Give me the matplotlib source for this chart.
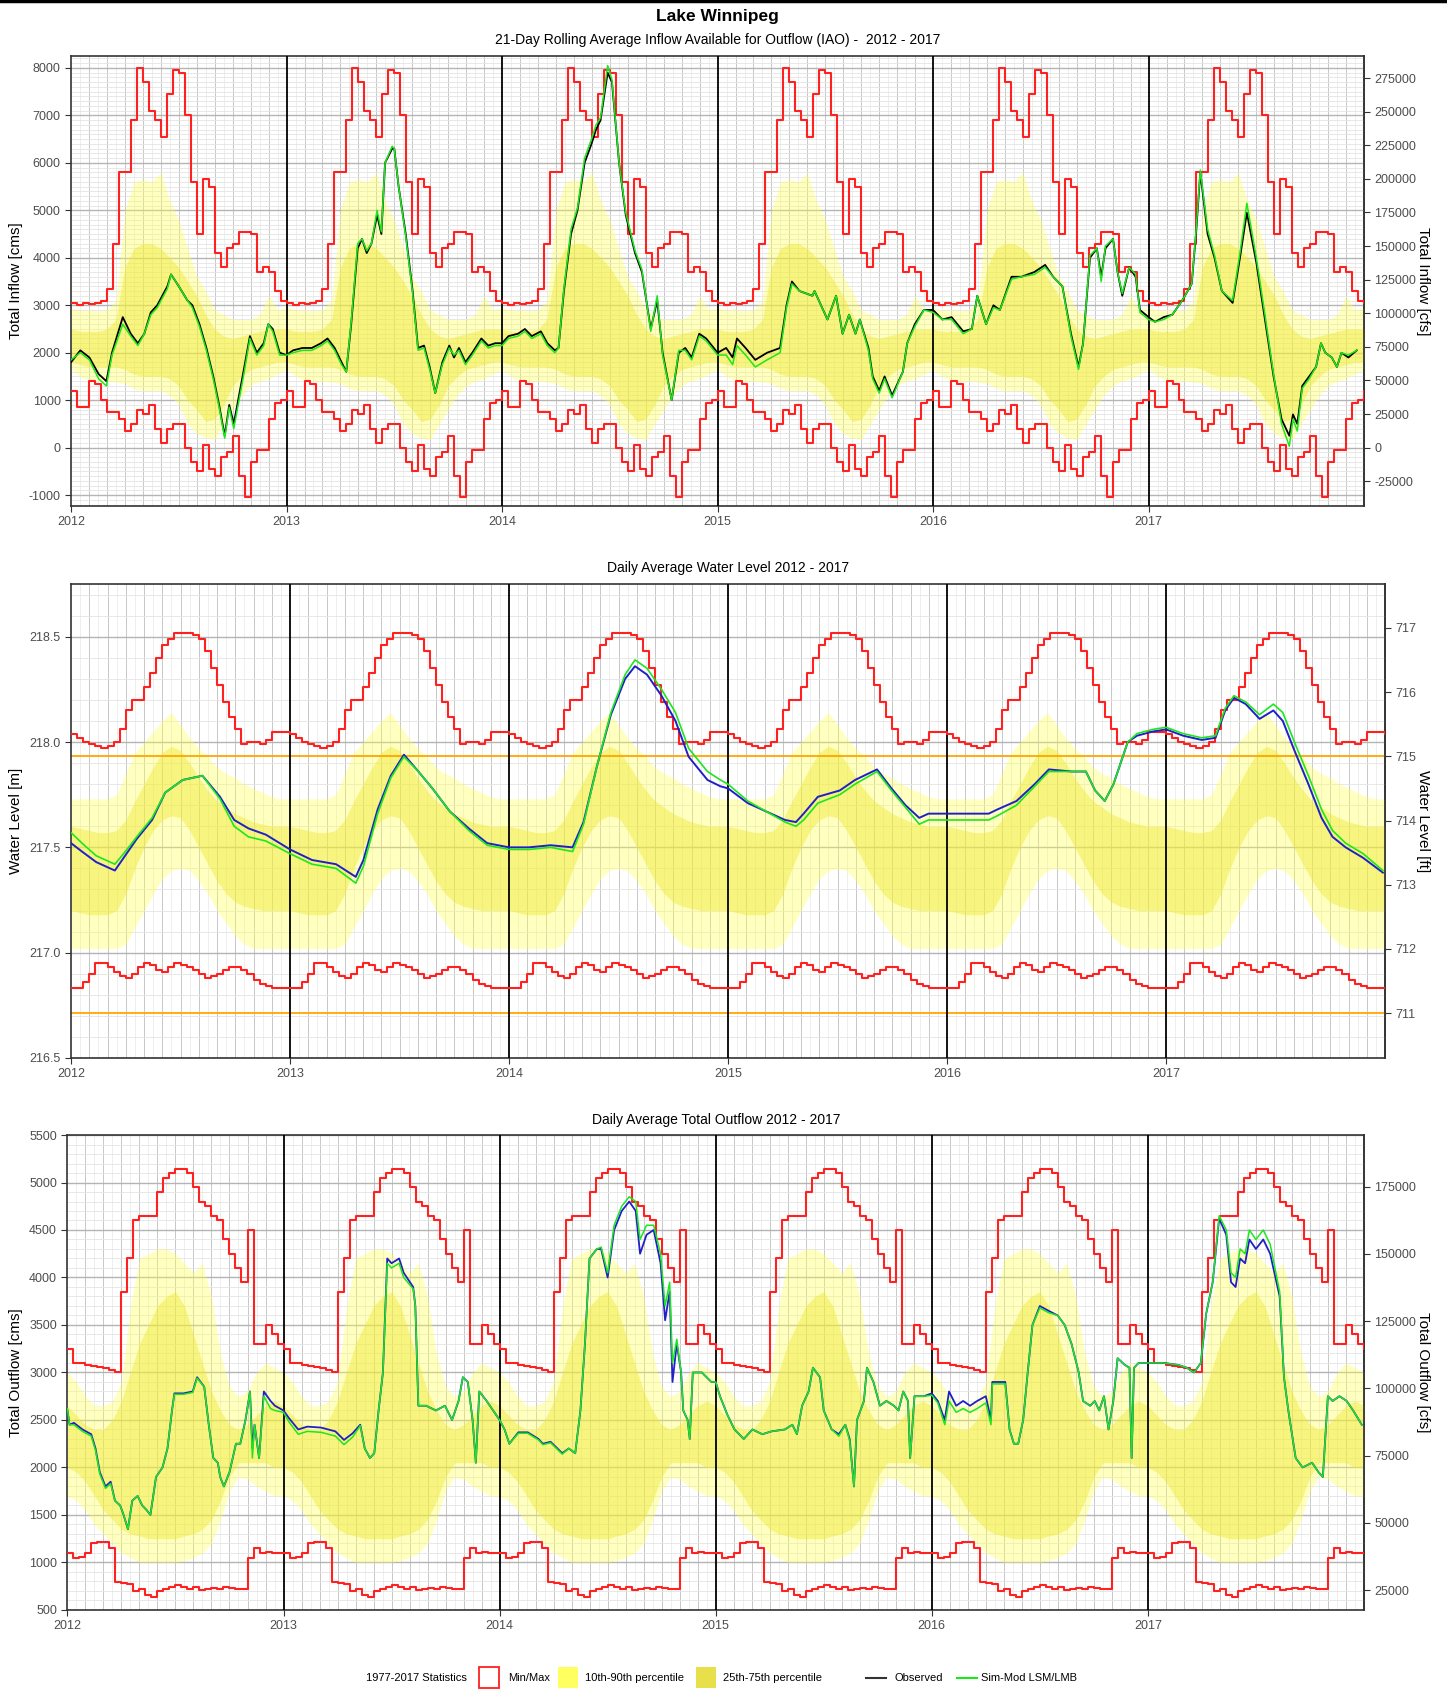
import numpy as np
import matplotlib
matplotlib.use("Agg")
import matplotlib.pyplot as plt
from matplotlib.patches import Rectangle
from matplotlib.lines import Line2D
from matplotlib.ticker import FixedLocator, MultipleLocator, FuncFormatter

plt.rcParams['font.family'] = ['Liberation Sans', 'DejaVu Sans']

years = [2012, 2013, 2014, 2015, 2016, 2017]

#################################################
# 1977-2017 statistics (same every year)
# min/max: 36 ten-day steps, percentiles: 24 half-month values
#################################################
in_max = [3050, 3000, 3050, 3030, 3050, 3100, 3350, 4300, 5800, 5800, 6900, 8000,
          7700, 7100, 6900, 6550, 7450, 7950, 7900, 7000, 5600, 4500, 5650, 5500,
          4100, 3800, 4200, 4300, 4550, 4550, 4500, 3700, 3800, 3700, 3300, 3100]
in_min = [1200, 850, 850, 1400, 1350, 1000, 750, 750, 600, 350, 500, 800,
          700, 900, 400, 100, 400, 500, 500, 0, -300, -500, 50, -450,
          -600, -200, -100, 250, -600, -1050, -300, -50, -50, 600, 950, 1000]
in_p90 = [2950, 2900, 2900, 2880, 2900, 3100, 5000, 5600, 5650, 5600, 5800, 5200,
          4800, 4200, 3600, 3300, 2900, 2800, 2700, 2700, 2700, 2800, 3200, 2900]
in_p75 = [2500, 2450, 2450, 2450, 2500, 2700, 3800, 4200, 4300, 4300, 4200, 4000,
          3800, 3500, 3200, 2800, 2500, 2350, 2300, 2350, 2400, 2450, 2500, 2500]
in_p25 = [1800, 1750, 1700, 1700, 1700, 1700, 1650, 1550, 1500, 1500, 1500, 1450,
          1300, 1000, 800, 550, 600, 900, 1300, 1500, 1650, 1700, 1750, 1800]
in_p10 = [1650, 1500, 1420, 1400, 1400, 1380, 1350, 1250, 1200, 1200, 1200, 1100,
          900, 500, 300, 200, 170, 500, 800, 1100, 1300, 1400, 1450, 1550]

wl_max = [218.04, 218.02, 218.00, 217.99, 217.98, 217.97, 217.98, 218.00, 218.06,
          218.15, 218.20, 218.20, 218.26, 218.33, 218.40, 218.46, 218.49, 218.52,
          218.52, 218.52, 218.51, 218.49, 218.43, 218.35, 218.27, 218.19, 218.12,
          218.06, 217.99, 218.00, 218.00, 217.99, 218.01, 218.05, 218.05, 218.05]
wl_min = [216.83, 216.83, 216.86, 216.90, 216.95, 216.95, 216.93, 216.91, 216.89,
          216.88, 216.90, 216.93, 216.95, 216.94, 216.92, 216.91, 216.93, 216.95,
          216.94, 216.93, 216.92, 216.90, 216.88, 216.89, 216.90, 216.92, 216.93,
          216.93, 216.92, 216.90, 216.87, 216.85, 216.84, 216.83, 216.83, 216.83]
wl_p90 = [217.73, 217.73, 217.73, 217.73, 217.73, 217.75, 217.85, 217.95, 218.00, 218.05, 218.10, 218.14,
          218.08, 218.02, 217.97, 217.93, 217.88, 217.85, 217.83, 217.80, 217.78, 217.76, 217.74, 217.73]
wl_p75 = [217.60, 217.59, 217.58, 217.57, 217.57, 217.58, 217.63, 217.72, 217.80, 217.88, 217.95, 217.98,
          217.96, 217.90, 217.83, 217.77, 217.72, 217.69, 217.66, 217.64, 217.62, 217.61, 217.60, 217.60]
wl_p25 = [217.20, 217.19, 217.18, 217.18, 217.18, 217.20, 217.28, 217.40, 217.50, 217.58, 217.63, 217.65,
          217.64, 217.58, 217.50, 217.42, 217.34, 217.28, 217.24, 217.22, 217.21, 217.20, 217.20, 217.20]
wl_p10 = [217.02, 217.02, 217.02, 217.02, 217.02, 217.02, 217.04, 217.12, 217.20, 217.28, 217.35, 217.39,
          217.40, 217.39, 217.34, 217.28, 217.20, 217.14, 217.08, 217.04, 217.02, 217.02, 217.02, 217.02]
wl_bounds_ft = [711, 715]

out_max = [3250, 3100, 3100, 3080, 3070, 3060, 3050, 3030, 3000, 3850, 4200, 4600,
           4650, 4650, 4650, 4900, 5050, 5100, 5140, 5140, 5100, 4950, 4800, 4750,
           4650, 4600, 4400, 4250, 4100, 3950, 4500, 3300, 3300, 3500, 3400, 3300]
out_min = [1100, 1050, 1060, 1100, 1200, 1220, 1220, 1150, 790, 780, 770, 700,
           720, 660, 640, 700, 720, 740, 760, 740, 720, 740, 710, 720,
           730, 720, 740, 730, 720, 720, 1050, 1150, 1100, 1110, 1100, 1100]
out_p90 = [3000, 2900, 2750, 2650, 2650, 2700, 2900, 3700, 4200, 4250, 4300, 4300,
           4250, 4150, 4050, 4150, 3800, 3200, 2850, 2750, 2800, 3000, 3100, 3050]
out_p75 = [2650, 2550, 2450, 2400, 2400, 2500, 2700, 3000, 3300, 3500, 3700, 3800,
           3850, 3700, 3400, 3100, 2800, 2600, 2450, 2400, 2450, 2550, 2650, 2700]
out_p25 = [2000, 1950, 1850, 1700, 1550, 1450, 1350, 1300, 1280, 1250, 1250, 1250,
           1250, 1280, 1300, 1350, 1450, 1650, 1900, 2050, 2050, 2050, 2050, 2000]
out_p10 = [1700, 1650, 1550, 1400, 1300, 1200, 1100, 1050, 1000, 1000, 1000, 1000,
           1000, 1020, 1050, 1100, 1200, 1450, 1750, 1900, 1880, 1800, 1750, 1700]

#################################################
# 2012-2017 series: day position (fraction of year) per year, observed, simulated
#################################################
in_t = [
    [0, .043, .085, .128, .164, .19, .24, .277, .31, .34, .37, .40, .447, .464, .50, .54, .563, .596, .628, .66,
     .687, .713, .734, .755, .80, .83, .862, .894, .915, .936, .968],
    [0, .03, .074, .117, .16, .19, .223, .255, .277, .30, .33, .35, .372, .394, .42, .44, .457, .49, .50, .52,
     .553, .585, .61, .638, .664, .69, .723, .755, .777, .80, .83, .862, .904, .936, .968],
    [0, .03, .074, .106, .138, .18, .21, .245, .262, .287, .32, .35, .383, .415, .436, .457, .49, .51, .543, .574,
     .617, .649, .69, .72, .745, .787, .82, .85, .88, .915, .947],
    [0, .04, .07, .09, .13, .175, .23, .29, .32, .345, .38, .44, .45, .51, .55, .58, .61, .64, .66, .70,
     .72, .75, .775, .81, .86, .88, .915, .957],
    [0, .043, .086, .14, .18, .205, .246, .28, .31, .364, .41, .47, .52, .557, .60, .64, .675, .696, .728, .76,
     .78, .80, .835, .856, .878, .91, .94, .96],
    [0, .03, .07, .11, .156, .20, .22, .24, .274, .306, .34, .39, .424, .456, .50, .54, .58, .617, .653, .67,
     .69, .713, .745, .777, .80, .82, .85, .874, .895, .927, .966],
]
in_obs = [
    [1800, 2050, 1900, 1550, 1400, 2000, 2750, 2400, 2200, 2400, 2850, 3000, 3400, 3650, 3400, 3100, 3000, 2600,
     2100, 1500, 900, 250, 900, 500, 1600, 2350, 2000, 2200, 2600, 2500, 2000],
    [1950, 2050, 2100, 2100, 2200, 2300, 2100, 1800, 1600, 2600, 4200, 4400, 4100, 4300, 4900, 4500, 6000, 6300,
     6300, 5500, 4500, 3300, 2100, 2150, 1700, 1150, 1800, 2150, 1900, 2100, 1800, 2000, 2300, 2150, 2200],
    [2200, 2350, 2400, 2500, 2350, 2450, 2200, 2050, 2100, 3300, 4500, 5000, 6000, 6400, 6700, 6900, 7900, 7700,
     6000, 4900, 4100, 3700, 2500, 3100, 2000, 1000, 2000, 2100, 1900, 2400, 2300],
    [2000, 2100, 1900, 2300, 2100, 1850, 2000, 2100, 3000, 3500, 3300, 3200, 3300, 2700, 3200, 2400, 2800, 2400,
     2700, 2100, 1500, 1200, 1500, 1100, 1600, 2200, 2600, 2900],
    [2900, 2700, 2750, 2450, 2500, 3200, 2600, 3000, 2900, 3600, 3600, 3700, 3850, 3600, 3400, 2400, 1700, 2200,
     4000, 4200, 3600, 4200, 4400, 3700, 3200, 3800, 3600, 2900],
    [2750, 2650, 2750, 2800, 3100, 3450, 4500, 5800, 4500, 4000, 3300, 3050, 4000, 4950, 3900, 2700, 1500, 600,
     250, 700, 500, 1300, 1500, 1700, 2200, 2000, 1900, 1700, 2000, 1900, 2050],
]
in_sim = [
    [1850, 2000, 1850, 1450, 1300, 1950, 2600, 2350, 2150, 2400, 2800, 2950, 3350, 3650, 3400, 3100, 2950, 2550,
     2050, 1450, 850, 200, 850, 400, 1500, 2300, 1950, 2150, 2600, 2450, 1950],
    [1950, 2000, 2050, 2050, 2150, 2250, 2050, 1750, 1600, 2650, 4300, 4400, 4150, 4300, 5000, 4550, 6000, 6350,
     6300, 5500, 4450, 3250, 2050, 2100, 1650, 1150, 1750, 2100, 1950, 2050, 1750, 1950, 2250, 2100, 2150],
    [2150, 2300, 2350, 2450, 2300, 2400, 2150, 2000, 2100, 3350, 4600, 5050, 6100, 6500, 6800, 6950, 8050, 7750,
     6000, 4950, 4150, 3750, 2450, 3200, 1950, 1000, 2050, 2050, 1850, 2350, 2250],
    [1950, 1950, 1750, 2150, 1950, 1700, 1850, 2000, 2950, 3450, 3300, 3200, 3300, 2700, 3200, 2400, 2800, 2400,
     2700, 2050, 1450, 1150, 1450, 1050, 1600, 2200, 2550, 2900],
    [2850, 2700, 2700, 2400, 2500, 3200, 2600, 2950, 2900, 3550, 3600, 3650, 3800, 3600, 3400, 2350, 1650, 2200,
     4050, 4200, 3500, 4250, 4400, 3700, 3250, 3800, 3650, 2850],
    [2700, 2650, 2700, 2800, 3100, 3450, 4550, 5850, 4600, 4050, 3300, 3100, 4100, 5150, 4000, 2800, 1550, 500,
     30, 600, 350, 1250, 1450, 1700, 2200, 2000, 1900, 1700, 2000, 1950, 2050],
]

wl_t = [
    [0, .05, .115, .20, .24, .30, .37, .43, .51, .60, .68, .745, .81, .89],
    [0, .10, .21, .30, .335, .40, .46, .52, .586, .65, .73, .816, .90],
    [0, .09, .19, .29, .34, .40, .465, .53, .575, .63, .696, .76, .82, .906, .965],
    [0, .09, .175, .26, .31, .345, .41, .51, .58, .68, .746, .81, .873, .915],
    [0, .085, .19, .23, .317, .40, .465, .57, .634, .676, .72, .76, .825, .867, .94],
    [0, .078, .163, .226, .27, .31, .364, .427, .49, .533, .586, .65, .71, .76, .82, .90, .99],
]
wl_obs = [
    [217.52, 217.48, 217.43, 217.39, 217.45, 217.54, 217.63, 217.76, 217.82, 217.84, 217.74, 217.63, 217.59, 217.56],
    [217.49, 217.44, 217.42, 217.36, 217.44, 217.68, 217.84, 217.94, 217.86, 217.78, 217.67, 217.59, 217.52],
    [217.50, 217.50, 217.51, 217.50, 217.62, 217.88, 218.13, 218.30, 218.36, 218.32, 218.22, 218.10, 217.93,
     217.82, 217.79],
    [217.78, 217.71, 217.67, 217.63, 217.62, 217.66, 217.74, 217.77, 217.82, 217.87, 217.78, 217.70, 217.64, 217.66],
    [217.66, 217.66, 217.66, 217.68, 217.72, 217.80, 217.87, 217.86, 217.86, 217.77, 217.72, 217.80, 218.00,
     218.03, 218.05],
    [218.06, 218.03, 218.01, 218.02, 218.15, 218.21, 218.18, 218.11, 218.15, 218.10, 217.96, 217.80, 217.64,
     217.55, 217.50, 217.45, 217.38],
]
wl_sim = [
    [217.57, 217.52, 217.46, 217.42, 217.47, 217.55, 217.64, 217.76, 217.82, 217.84, 217.73, 217.60, 217.55, 217.53],
    [217.47, 217.42, 217.40, 217.33, 217.41, 217.66, 217.83, 217.93, 217.86, 217.78, 217.67, 217.58, 217.51],
    [217.49, 217.49, 217.50, 217.48, 217.61, 217.88, 218.14, 218.32, 218.39, 218.35, 218.25, 218.14, 217.97,
     217.86, 217.82],
    [217.80, 217.72, 217.67, 217.62, 217.60, 217.63, 217.71, 217.75, 217.80, 217.86, 217.77, 217.69, 217.61, 217.63],
    [217.63, 217.63, 217.63, 217.65, 217.70, 217.79, 217.86, 217.86, 217.86, 217.77, 217.72, 217.80, 218.00,
     218.04, 218.06],
    [218.07, 218.04, 218.02, 218.03, 218.16, 218.22, 218.19, 218.13, 218.18, 218.14, 218.00, 217.84, 217.68,
     217.58, 217.52, 217.47, 217.39],
]

out_t = [
    [0, .01, .03, .07, .11, .13, .15, .176, .20, .22, .244, .26, .28, .30, .325, .346, .367, .384, .41, .44, .463,
     .484, .495, .537, .58, .60, .633, .654, .675, .696, .707, .724, .75, .78, .80, .824, .845, .856, .866, .887,
     .909, .94, .96],
    [0, .025, .068, .11, .174, .24, .28, .32, .355, .376, .40, .42, .44, .46, .48, .50, .535, .556, .60, .61,
     .624, .66, .705, .747, .78, .81, .83, .853, .875, .89, .906, .94, .97],
    [0, .023, .045, .087, .13, .18, .20, .236, .29, .32, .35, .374, .395, .416, .45, .47, .50, .53, .565, .60,
     .63, .65, .68, .713, .745, .766, .787, .80, .82, .84, .85, .87, .88, .894, .936, .98],
    [0, .02, .055, .087, .13, .17, .216, .258, .32, .355, .376, .40, .43, .45, .483, .50, .537, .57, .60, .62,
     .64, .654, .686, .70, .73, .76, .79, .825, .846, .868, .89, .90, .92, .963],
    [0, .028, .06, .08, .113, .145, .177, .21, .25, .274, .28, .316, .34, .36, .38, .40, .423, .444, .466, .50,
     .54, .583, .615, .647, .68, .70, .733, .754, .775, .797, .818, .84, .86, .893, .915, .925, .936, .957],
    [0, .075, .14, .18, .214, .245, .27, .30, .33, .363, .385, .406, .427, .45, .47, .50, .534, .566, .61, .63,
     .65, .684, .716, .76, .79, .81, .833, .855, .887, .92, .95, .99],
]
out_obs = [
    [2600, 2450, 2470, 2400, 2350, 2200, 1950, 1800, 1850, 1650, 1600, 1500, 1350, 1650, 1700, 1600, 1550, 1500,
     1900, 2000, 2200, 2600, 2780, 2780, 2800, 2950, 2850, 2450, 2100, 2050, 1900, 1800, 1950, 2250, 2250, 2500,
     2800, 2200, 2450, 2100, 2800, 2700, 2650],
    [2600, 2520, 2400, 2430, 2420, 2380, 2290, 2360, 2450, 2200, 2100, 2150, 2600, 3000, 4200, 4150, 4200, 4050,
     3900, 3700, 2650, 2650, 2600, 2650, 2500, 2700, 2950, 2900, 2500, 2050, 2800, 2700, 2600],
    [2500, 2400, 2250, 2370, 2370, 2300, 2250, 2270, 2150, 2200, 2150, 2600, 3300, 4200, 4300, 4300, 4000, 4500,
     4700, 4800, 4700, 4250, 4450, 4500, 4150, 3550, 3850, 2900, 3300, 3000, 2600, 2500, 2300, 3000, 3000, 2900],
    [2900, 2750, 2550, 2400, 2300, 2400, 2350, 2380, 2400, 2450, 2350, 2650, 2800, 3050, 2950, 2600, 2400, 2350,
     2450, 2300, 1800, 2500, 2700, 3050, 2900, 2650, 2700, 2650, 2600, 2800, 2700, 2100, 2750, 2750],
    [2780, 2700, 2500, 2800, 2650, 2700, 2650, 2700, 2750, 2500, 2900, 2900, 2900, 2400, 2250, 2250, 2500, 3000,
     3500, 3700, 3650, 3600, 3500, 3300, 3000, 2700, 2650, 2700, 2600, 2750, 2400, 2700, 3150, 3080, 3050, 2100,
     3050, 3100],
    [3100, 3100, 3080, 3050, 3000, 3100, 3620, 3950, 4620, 4450, 3950, 3900, 4200, 4150, 4400, 4300, 4400, 4250,
     3800, 2950, 2600, 2100, 2000, 2050, 1950, 1900, 2750, 2700, 2750, 2700, 2600, 2450],
]
out_sim = [
    [2620, 2450, 2450, 2380, 2330, 2180, 1930, 1780, 1830, 1650, 1600, 1500, 1350, 1650, 1700, 1600, 1550, 1500,
     1900, 2000, 2200, 2600, 2770, 2770, 2790, 2940, 2850, 2450, 2100, 2050, 1900, 1800, 1950, 2250, 2250, 2500,
     2800, 2100, 2450, 2100, 2750, 2620, 2600],
    [2580, 2480, 2350, 2380, 2370, 2330, 2240, 2320, 2440, 2200, 2100, 2150, 2600, 3000, 4150, 4100, 4150, 4000,
     3880, 3700, 2650, 2650, 2600, 2650, 2500, 2700, 2950, 2900, 2500, 2050, 2800, 2700, 2600],
    [2500, 2400, 2250, 2360, 2360, 2290, 2240, 2260, 2140, 2200, 2150, 2600, 3300, 4200, 4300, 4320, 4050, 4550,
     4750, 4850, 4800, 4400, 4550, 4550, 4250, 3700, 3950, 3100, 3350, 3000, 2600, 2500, 2300, 3000, 3000, 2900],
    [2900, 2750, 2550, 2400, 2300, 2400, 2350, 2380, 2400, 2450, 2350, 2650, 2800, 3050, 2950, 2600, 2400, 2330,
     2450, 2280, 1800, 2500, 2700, 3050, 2900, 2650, 2700, 2650, 2600, 2800, 2700, 2100, 2750, 2750],
    [2760, 2680, 2450, 2700, 2580, 2620, 2580, 2620, 2680, 2450, 2880, 2880, 2880, 2400, 2250, 2250, 2500, 3000,
     3500, 3680, 3630, 3600, 3500, 3300, 3000, 2700, 2650, 2700, 2600, 2750, 2400, 2700, 3150, 3080, 3050, 2100,
     3050, 3100],
    [3100, 3100, 3080, 3050, 3000, 3100, 3620, 3950, 4650, 4500, 4050, 4000, 4300, 4250, 4500, 4400, 4500, 4350,
     3850, 2950, 2600, 2100, 2000, 2050, 1950, 1900, 2750, 2700, 2750, 2700, 2600, 2450],
]

CMS_TO_CFS = 35.3147
M_TO_FT = 3.28084

RED = '#FF2020'
GREEN = '#1EE61E'
LIGHT_Y = '#FFFF4C'
DARK_Y = '#EEE830'


def clim_x(vals):
    n = len(vals)
    x = [y + i / n for y in years for i in range(n)] + [years[-1] + 1]
    v = list(vals) * len(years) + [vals[0]]
    return np.array(x), np.array(v)


def series(tlist, vlist):
    x = np.concatenate([y + np.array(t) for y, t in zip(years, tlist)])
    v = np.concatenate([np.array(vv, dtype=float) for vv in vlist])
    return x, v


def setup(ax, ylim, major, minor, yfmt):
    ax.set_xlim(2012, 2018)
    ax.set_ylim(*ylim)
    ax.yaxis.set_major_locator(FixedLocator(major))
    ax.yaxis.set_major_formatter(FuncFormatter(yfmt))
    ax.yaxis.set_minor_locator(MultipleLocator(minor))
    ax.xaxis.set_major_locator(FixedLocator(years))
    ax.xaxis.set_major_formatter(FuncFormatter(lambda v, p: '%d' % v))
    ax.xaxis.set_minor_locator(FixedLocator([y + m / 24 for y in years for m in range(24)]))
    ax.set_axisbelow(True)
    ax.grid(which='major', axis='y', color='#B4B4B4', lw=1.0)
    ax.grid(which='minor', axis='y', color='#E4E4E4', lw=0.6)
    # month lines stronger than half-month lines
    for y in years:
        for m in range(24):
            xv = y + m / 24
            if m == 0:
                continue
            ax.axvline(xv, color='#C8C8C8' if m % 2 == 0 else '#E8E8E8',
                       lw=0.7 if m % 2 == 0 else 0.5, zorder=0)
    for y in years[1:]:
        ax.axvline(y, color='black', lw=1.3, zorder=3)
    ax.tick_params(which='major', direction='out', length=4, color='#333333',
                   labelcolor='#4D4D4D', labelsize=9)
    ax.tick_params(which='minor', length=0)
    for s in ax.spines.values():
        s.set_color('#333333')
        s.set_linewidth(1.2)


def draw_stats(ax, vmin, vmax, p10, p25, p75, p90):
    x, lo = clim_x(p10)
    _, hi = clim_x(p90)
    ax.fill_between(x, lo, hi, color=LIGHT_Y, alpha=0.35, lw=0, zorder=1)
    x, lo = clim_x(p25)
    _, hi = clim_x(p75)
    ax.fill_between(x, lo, hi, color=DARK_Y, alpha=0.45, lw=0, zorder=1)
    x, v = clim_x(vmax)
    ax.step(x, v, where='post', color=RED, lw=1.5, zorder=4)
    x, v = clim_x(vmin)
    ax.step(x, v, where='post', color=RED, lw=1.5, zorder=4)


fig = plt.figure(figsize=(14.47, 16.89), dpi=100)

ax1 = fig.add_axes([0.0491, 0.7004, 0.8936, 0.2664])
ax2 = fig.add_axes([0.0491, 0.3736, 0.9081, 0.2806])
ax3 = fig.add_axes([0.0466, 0.0468, 0.8960, 0.2812])

# ---- inflow ----
setup(ax1, (-1230, 8250), range(-1000, 8001, 1000), 100, lambda v, p: '%d' % v)
draw_stats(ax1, in_min, in_max, in_p10, in_p25, in_p75, in_p90)
x, v = series(in_t, in_obs)
ax1.plot(x, v, color='black', lw=1.3, zorder=5)
x, v = series(in_t, in_sim)
ax1.plot(x, v, color=GREEN, lw=1.1, zorder=6)
sec1 = ax1.secondary_yaxis('right', functions=(lambda c: c * CMS_TO_CFS, lambda c: c / CMS_TO_CFS))
sec1.set_yticks(range(-25000, 275001, 25000))
sec1.yaxis.set_major_formatter(FuncFormatter(lambda v, p: '%d' % v))

# ---- water level ----
setup(ax2, (216.5, 218.75), [216.5, 217.0, 217.5, 218.0, 218.5], 0.1, lambda v, p: '%.1f' % v)
draw_stats(ax2, wl_min, wl_max, wl_p10, wl_p25, wl_p75, wl_p90)
for b in wl_bounds_ft:
    ax2.axhline(b / M_TO_FT, color='#FFA500', lw=1.3, zorder=2)
x, v = series(wl_t, wl_obs)
ax2.plot(x, v, color='#2020C8', lw=1.4, zorder=5)
x, v = series(wl_t, wl_sim)
ax2.plot(x, v, color=GREEN, lw=1.2, zorder=6)
sec2 = ax2.secondary_yaxis('right', functions=(lambda c: c * M_TO_FT, lambda c: c / M_TO_FT))
sec2.set_yticks(range(711, 718))
sec2.yaxis.set_major_formatter(FuncFormatter(lambda v, p: '%d' % v))

# ---- outflow ----
setup(ax3, (500, 5500), range(500, 5501, 500), 100, lambda v, p: '%d' % v)
draw_stats(ax3, out_min, out_max, out_p10, out_p25, out_p75, out_p90)
x, v = series(out_t, out_obs)
ax3.plot(x, v, color='#2020C8', lw=1.3, zorder=5)
x, v = series(out_t, out_sim)
ax3.plot(x, v, color=GREEN, lw=1.1, zorder=6)
sec3 = ax3.secondary_yaxis('right', functions=(lambda c: c * CMS_TO_CFS, lambda c: c / CMS_TO_CFS))
sec3.set_yticks(range(25000, 175001, 25000))
sec3.yaxis.set_major_formatter(FuncFormatter(lambda v, p: '%d' % v))

for s in (sec1, sec2, sec3):
    s.tick_params(direction='out', length=4, color='#333333', labelcolor='#4D4D4D', labelsize=9)
    s.spines['right'].set_color('#333333')
    s.spines['right'].set_linewidth(1.2)

# ---- titles and labels ----
fig.add_artist(Line2D([0, 1], [0.9992, 0.9992], color='black', lw=2.5))
fig.text(0.4959, 0.9900, 'Lake Winnipeg', ha='center', va='center', fontsize=12.5, fontweight='bold')
fig.text(0.4959, 0.9763, '21-Day Rolling Average Inflow Available for Outflow (IAO) -  2012 - 2017',
         ha='center', va='center', fontsize=10)
fig.text(0.5030, 0.6637, 'Daily Average Water Level 2012 - 2017', ha='center', va='center', fontsize=10)
fig.text(0.4948, 0.3370, 'Daily Average Total Outflow 2012 - 2017', ha='center', va='center', fontsize=10)

fig.text(0.011, 0.8336, 'Total Inflow [cms]', rotation=90, ha='center', va='center', fontsize=11)
fig.text(0.011, 0.5139, 'Water Level [m]', rotation=90, ha='center', va='center', fontsize=11)
fig.text(0.011, 0.1874, 'Total Outflow [cms]', rotation=90, ha='center', va='center', fontsize=11)
fig.text(0.9834, 0.8336, 'Total Inflow [cfs]', rotation=270, ha='center', va='center', fontsize=11)
fig.text(0.9834, 0.5139, 'Water Level [ft]', rotation=270, ha='center', va='center', fontsize=11)
fig.text(0.9834, 0.1874, 'Total Outflow [cfs]', rotation=270, ha='center', va='center', fontsize=11)

# ---- legend row ----
ly = 0.0068
fs = 8
fig.text(0.253, ly, '1977-2017 Statistics', ha='left', va='center', fontsize=fs)
sq_w, sq_h = 0.0138, 0.0122
fig.add_artist(Rectangle((0.331, ly - sq_h / 2), sq_w, sq_h, transform=fig.transFigure,
                         facecolor='white', edgecolor=RED, lw=1.3))
fig.text(0.351, ly, 'Min/Max', ha='left', va='center', fontsize=fs)
fig.add_artist(Rectangle((0.3856, ly - sq_h / 2), sq_w, sq_h, transform=fig.transFigure,
                         facecolor='#FFFF60', edgecolor='none'))
fig.text(0.4043, ly, '10th-90th percentile', ha='left', va='center', fontsize=fs)
fig.add_artist(Rectangle((0.481, ly - sq_h / 2), sq_w, sq_h, transform=fig.transFigure,
                         facecolor='#E8E04A', edgecolor='none'))
fig.text(0.4997, ly, '25th-75th percentile', ha='left', va='center', fontsize=fs)
fig.add_artist(Line2D([0.5985, 0.6123], [ly, ly], color='#333333', lw=1.5))
fig.text(0.6185, ly, 'Observed', ha='left', va='center', fontsize=fs)
fig.add_artist(Line2D([0.6614, 0.6752], [ly, ly], color=GREEN, lw=1.5))
fig.text(0.678, ly, 'Sim-Mod LSM/LMB', ha='left', va='center', fontsize=fs)

fig.savefig('out.png', dpi=100)
